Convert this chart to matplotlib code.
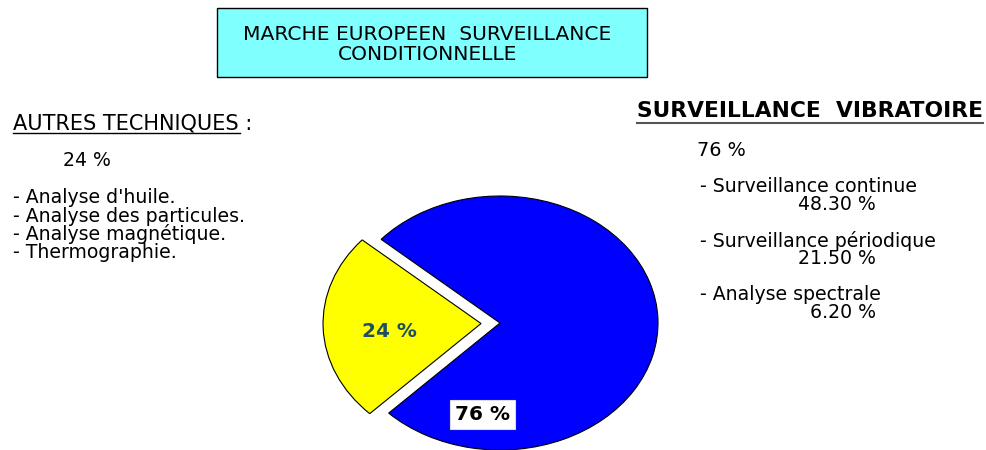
import matplotlib.pyplot as plt
from matplotlib.lines import Line2D

plt.rcParams['font.family'] = ['DejaVu Sans']

# market shares
segments = ['Autres techniques', 'Surveillance vibratoire']
shares = [24, 76]
colors = ['#ffff00', '#0000ff']

other_techniques = ["Analyse d'huile.", "Analyse des particules.",
                    "Analyse magnétique.", "Thermographie."]
vibration_items = ['Surveillance continue', 'Surveillance périodique', 'Analyse spectrale']
vibration_values = [48.30, 21.50, 6.20]

W, H = 987, 450
fig = plt.figure(figsize=(W / 100, H / 100), dpi=100)


def px(x, y):
    return x / W, 1 - y / H


# title box
fig.add_artist(plt.Rectangle(px(217, 77), 430 / W, 69 / H, transform=fig.transFigure,
                             fc='#80ffff', ec='black', lw=1))
fig.text(*px(243, 35), 'MARCHE EUROPEEN  SURVEILLANCE', va='center', fontsize=14.6)
fig.text(*px(338, 54), 'CONDITIONNELLE', va='center', fontsize=14.6)

# left block
fig.text(*px(13, 124), 'AUTRES TECHNIQUES :', fontsize=15, va='center')
fig.add_artist(Line2D([13 / W, 240 / W], [1 - 133 / H, 1 - 133 / H], color='black', lw=1))
fig.text(*px(63, 160), f'{shares[0]} %', fontsize=13.6, va='center')
for i, item in enumerate(other_techniques):
    fig.text(*px(13, 198 + i * 18), '- ' + item, fontsize=13.6, va='center')

# right block
fig.text(*px(637, 111), 'SURVEILLANCE  VIBRATOIRE', fontsize=15.7, fontweight='bold', va='center')
fig.add_artist(Line2D([637 / W, 983 / W], [1 - 123 / H, 1 - 123 / H], color='#555555', lw=1.5))
fig.text(*px(697, 151), f'{shares[1]} %', fontsize=13.8, va='center')
for i, (item, val) in enumerate(zip(vibration_items, vibration_values)):
    y = 187 + i * 54
    fig.text(*px(700, y), '- ' + item, fontsize=13.6, va='center')
    fig.text(*px(876, y + 18), f'{val:.2f} %', fontsize=13.6, va='center', ha='right')

# pie, stretched into an ellipse
rx, ry = 158, 127
cx, cy = 500, 323
ax = fig.add_axes([(cx - 1.5 * rx) / W, (H - cy - 1.0 * ry) / H, 3 * rx / W, 2.5 * ry / H])

start = 182 - shares[0] * 3.6 / 2
wedges, _ = ax.pie(shares, colors=colors, startangle=start, counterclock=True,
                   explode=[0.12, 0], radius=1,
                   wedgeprops=dict(edgecolor='black', linewidth=0.8))
ax.set_aspect('auto')
ax.set_xlim(-1.5, 1.5)
ax.set_ylim(-1.0, 1.5)
ax.axis('off')
for w in wedges:
    w.set_clip_on(False)

ax.text(-0.70, -0.07, f'{shares[0]} %', ha='center', va='center', fontsize=14.4,
        fontweight='bold', color='#1f4f5f')
ax.text(-0.108, -0.717, f'{shares[1]} %', ha='center', va='center', fontsize=14.4,
        fontweight='bold', color='black',
        bbox=dict(boxstyle='square,pad=0.25', fc='white', ec='#dddddd', lw=0.8))

fig.savefig('out.png', dpi=100)
